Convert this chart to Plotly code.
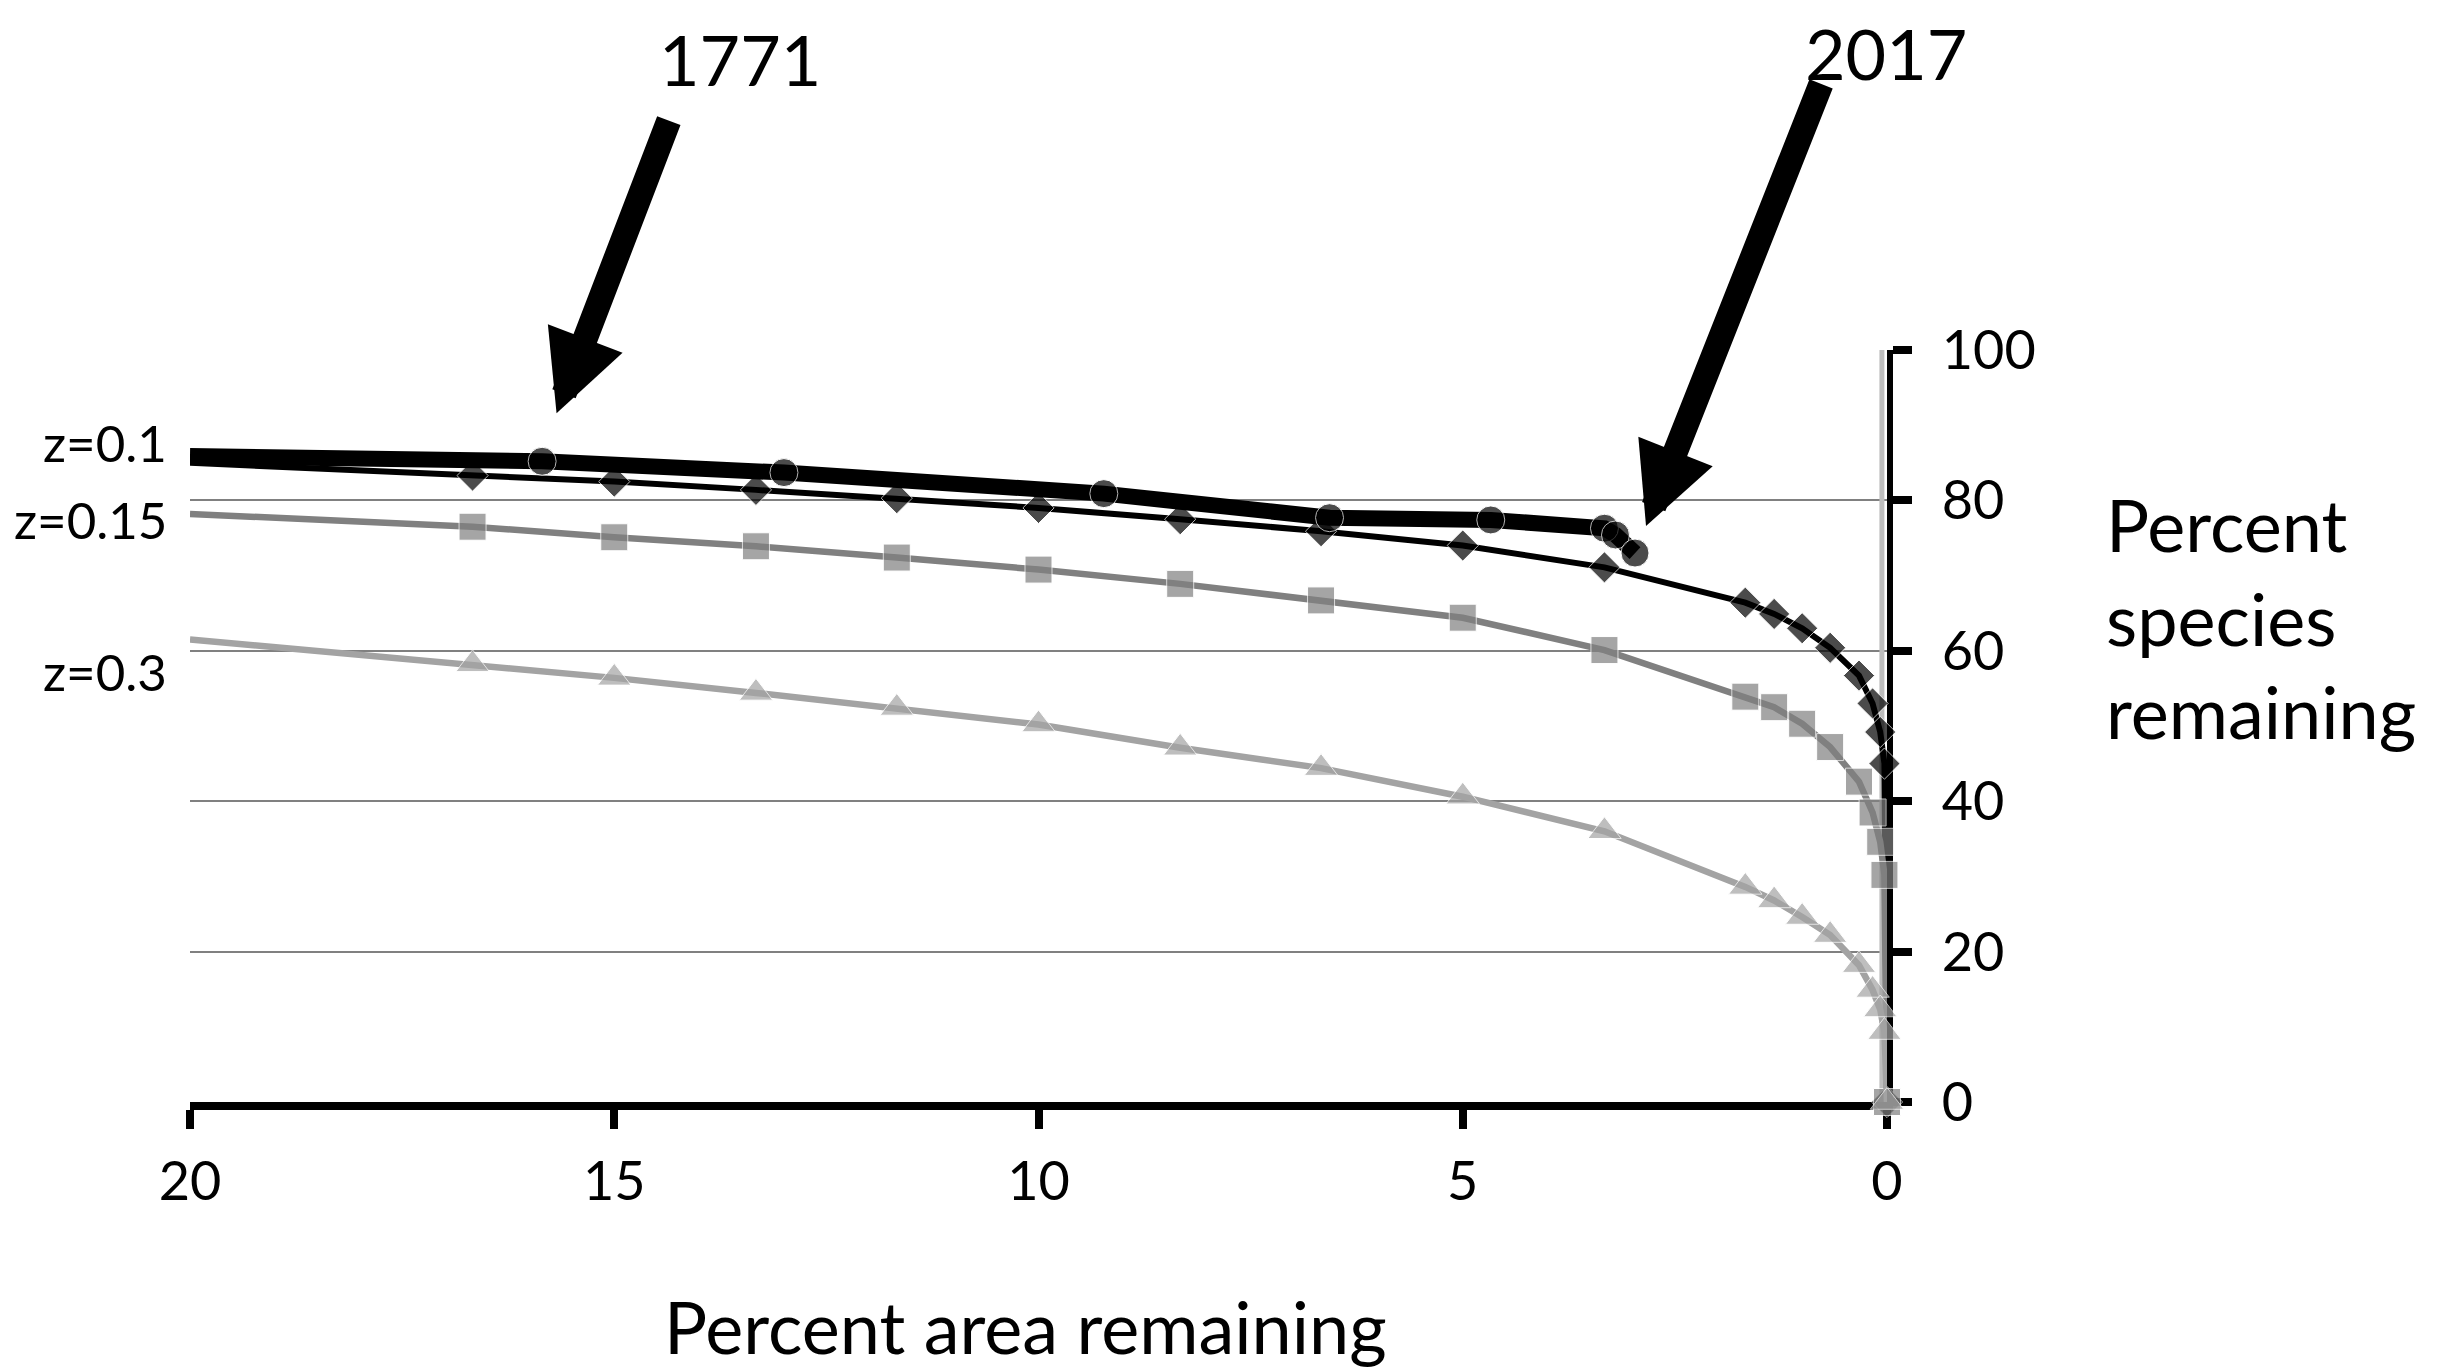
import plotly.graph_objects as go

font_family = 'Lato'

# percent area remaining (x) for the three z curves
area_pct = [20, 16.67, 15, 13.33, 11.67, 10, 8.33, 6.67, 5, 3.33,
            1.67, 1.33, 1.0, 0.67, 0.33, 0.17, 0.08, 0.03, 0]

# percent species remaining for each z
species_z01 = [85.0, 83.3, 82.5, 81.4, 80.3, 79.0, 77.5, 75.9, 74.0, 71.1,
               66.4, 64.9, 63.0, 60.4, 56.7, 53.0, 49.2, 45.0, 0]
species_z015 = [78.2, 76.5, 75.1, 73.9, 72.4, 70.8, 68.9, 66.7, 64.4, 60.1,
                53.9, 52.5, 50.3, 47.2, 42.6, 38.5, 34.6, 30.2, 0]
species_z03 = [61.5, 58.2, 56.4, 54.4, 52.4, 50.2, 47.1, 44.4, 40.6, 36.0,
               28.6, 26.8, 24.6, 22.2, 18.2, 14.9, 12.3, 9.3, 0]

# historical path 1771 -> 2017
hist_area = [20, 15.85, 13.0, 9.23, 6.57, 4.67, 3.33, 3.2, 2.97]
hist_species = [85.9, 85.2, 83.7, 80.9, 77.7, 77.4, 76.3, 75.4, 73.0]

# light grey line at the right edge
edge_x = [0.06, 0.06]
edge_y = [0, 100]

z_labels = ['z=0.1', 'z=0.15', 'z=0.3']
x_ticks = [20, 15, 10, 5, 0]
y_ticks = [0, 20, 40, 60, 80, 100]

fig = go.Figure()

fig.add_trace(go.Scatter(x=edge_x, y=edge_y, mode='lines',
                         line=dict(color='#BDBDBD', width=5),
                         hoverinfo='skip', cliponaxis=False))

fig.add_trace(go.Scatter(x=area_pct, y=species_z01, mode='lines+markers', name='z=0.1',
                         line=dict(color='black', width=6),
                         marker=dict(symbol='diamond', size=[0] + [24] * (len(area_pct) - 1),
                                     color='black'),
                         cliponaxis=False))

fig.add_trace(go.Scatter(x=area_pct, y=species_z015, mode='lines+markers', name='z=0.15',
                         line=dict(color='#808080', width=6.5),
                         marker=dict(symbol='square', size=[0] + [27] * (len(area_pct) - 1),
                                     color='#808080'),
                         cliponaxis=False))

fig.add_trace(go.Scatter(x=area_pct, y=species_z03, mode='lines+markers', name='z=0.3',
                         line=dict(color='#A3A3A3', width=6.5),
                         marker=dict(symbol='triangle-up', size=[0] + [29] * (len(area_pct) - 1),
                                     color='#A3A3A3'),
                         cliponaxis=False))

fig.add_trace(go.Scatter(x=hist_area, y=hist_species, mode='lines+markers', name='1771-2017',
                         line=dict(color='black', width=16),
                         marker=dict(symbol='circle', size=[0] + [28] * (len(hist_area) - 1),
                                     color='black'),
                         cliponaxis=False))

fig.update_layout(
    width=2441, height=1369,
    margin=dict(l=182, r=562, t=342, b=275),
    paper_bgcolor='white', plot_bgcolor='white',
    showlegend=False,
    font=dict(family=font_family, color='black', size=54),
)

fig.update_xaxes(range=[20, 0], tickvals=x_ticks, ticks='outside', ticklen=19, tickwidth=8,
                 tickcolor='black', showline=True, linewidth=8, linecolor='black',
                 showgrid=False, zeroline=False, ticklabelstandoff=6,
                 tickfont=dict(size=54), layer='below traces')

fig.update_yaxes(range=[0, 100], tickvals=y_ticks, side='right', ticks='outside', ticklen=19,
                 tickwidth=8, tickcolor='black', showline=True, linewidth=6, linecolor='black',
                 showgrid=True, gridcolor='#808080', gridwidth=2, zeroline=False,
                 ticklabelstandoff=19, tickfont=dict(size=54), layer='below traces')

# axis titles
fig.add_annotation(text='Percent area remaining', xref='paper', yref='paper',
                   x=0.4925, y=-0.298, xanchor='center', yanchor='middle',
                   showarrow=False, font=dict(size=72))
fig.add_annotation(text='Percent<br>species<br>remaining', xref='paper', yref='paper',
                   x=1.128, y=0.644, xanchor='left', yanchor='middle', align='left',
                   showarrow=False, font=dict(size=72))

# curve labels
for label, ypos in zip(z_labels, [0.877, 0.775, 0.573]):
    fig.add_annotation(text=label, xref='paper', yref='paper', x=-0.0125, y=ypos,
                       xanchor='right', yanchor='middle', showarrow=False,
                       font=dict(size=51))

# year labels and arrows
fig.add_annotation(text='1771', xref='paper', yref='paper', x=0.324, y=1.387,
                   xanchor='center', yanchor='middle', showarrow=False, font=dict(size=70))
fig.add_annotation(text='2017', xref='paper', yref='paper', x=0.9994, y=1.454,
                   xanchor='center', yanchor='top', showarrow=False, font=dict(size=70))

fig.add_annotation(text='', x=15.68, y=91.6, ax=14.35, ay=130.7,
                   xref='x', yref='y', axref='x', ayref='y',
                   showarrow=True, arrowhead=2, arrowwidth=25, arrowsize=0.64,
                   arrowcolor='black')
fig.add_annotation(text='', x=2.84, y=76.6, ax=0.77, ay=135.6,
                   xref='x', yref='y', axref='x', ayref='y',
                   showarrow=True, arrowhead=2, arrowwidth=25, arrowsize=0.64,
                   arrowcolor='black')

fig.write_html("out.html")
